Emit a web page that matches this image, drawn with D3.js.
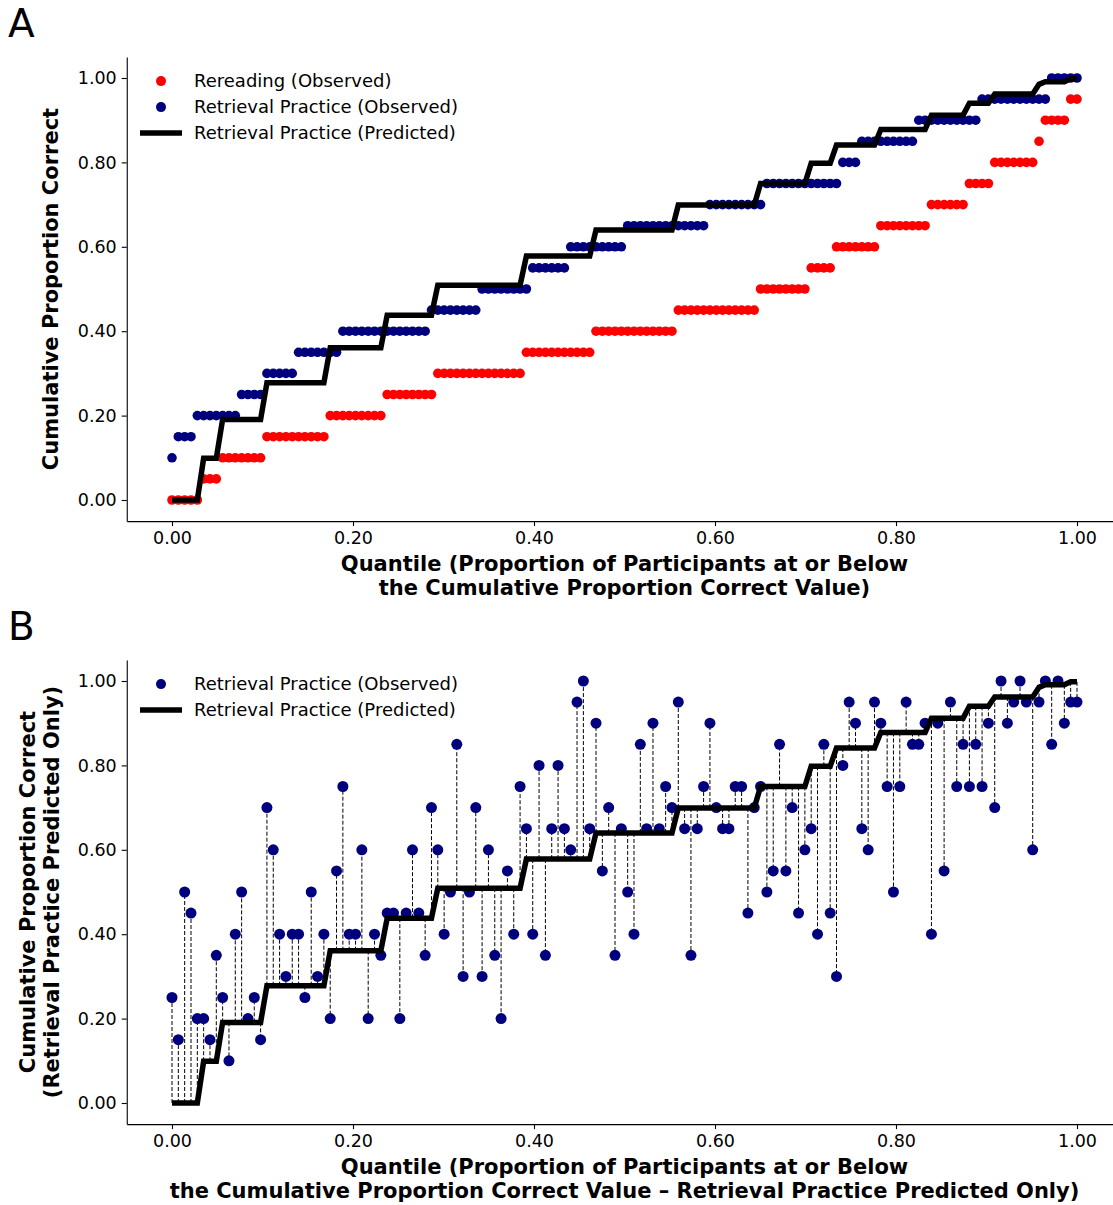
<!DOCTYPE html>
<html>
<head>
<meta charset="utf-8">
<script src="https://cdn.jsdelivr.net/npm/d3@7"></script>
<style>
  body { margin: 0; background: #fff; }
  text { font-family: "DejaVu Sans", "Liberation Sans", sans-serif; fill: #000; }
</style>
</head>
<body>
<svg id="fig" width="1113" height="1205"></svg>
<script>
// Possible test scores (proportion correct, 20-item test)
const scoreLevels = [0.00, 0.05, 0.10, 0.15, 0.20, 0.25, 0.30, 0.35, 0.40, 0.45,
                     0.50, 0.55, 0.60, 0.65, 0.70, 0.75, 0.80, 0.85, 0.90, 0.95, 1.00];

// Number of rereading participants at each score level
const rereadingCounts = [5, 3, 7, 10, 9, 8, 14, 11, 13, 13, 8, 4, 7, 8, 6, 4, 7, 1, 4, 2, 0];

// Predicted retrieval-practice score for each rereading score level
const predictedByLevel = [0.000, 0.099, 0.191, 0.278, 0.361, 0.438, 0.509, 0.578, 0.640, 0.699,
                          0.750, 0.798, 0.841, 0.878, 0.912, 0.940, 0.962, 0.985, 0.991, 0.998, 1.000];

// Observed retrieval-practice scores, ordered by predicted rank
const retrievalObserved = [
  0.25, 0.15, 0.50, 0.45, 0.20, 0.20, 0.15, 0.35, 0.25, 0.10,
  0.40, 0.50, 0.20, 0.25, 0.15, 0.70, 0.60, 0.40, 0.30, 0.40,
  0.40, 0.25, 0.50, 0.30, 0.40, 0.20, 0.55, 0.75, 0.40, 0.40,
  0.60, 0.20, 0.40, 0.35, 0.45, 0.45, 0.20, 0.45, 0.60, 0.45,
  0.35, 0.70, 0.60, 0.40, 0.50, 0.85, 0.30, 0.50, 0.70, 0.30,
  0.60, 0.35, 0.20, 0.55, 0.40, 0.75, 0.65, 0.40, 0.80, 0.35,
  0.65, 0.80, 0.65, 0.60, 0.95, 1.00, 0.65, 0.90, 0.55, 0.70,
  0.35, 0.65, 0.50, 0.40, 0.85, 0.65, 0.90, 0.65, 0.75, 0.70,
  0.95, 0.65, 0.35, 0.65, 0.75, 0.90, 0.70, 0.65, 0.65, 0.75,
  0.75, 0.45, 0.70, 0.75, 0.50, 0.55, 0.85, 0.55, 0.70, 0.45,
  0.60, 0.65, 0.40, 0.85, 0.45, 0.30, 0.80, 0.95, 0.90, 0.65,
  0.60, 0.95, 0.90, 0.75, 0.50, 0.75, 0.95, 0.85, 0.85, 0.90,
  0.40, 0.90, 0.55, 0.95, 0.75, 0.85, 0.75, 0.85, 0.75, 0.90,
  0.70, 1.00, 0.90, 0.95, 1.00, 0.95, 0.60, 0.95, 1.00, 0.85,
  1.00, 0.90, 0.95, 0.95
];

const yTicks = [0, 0.2, 0.4, 0.6, 0.8, 1.0];
const xTicks = [0, 0.2, 0.4, 0.6, 0.8, 1.0];

// Sorted rereading scores and their predicted retrieval scores
const rereadingSorted = [];
const predicted = [];
scoreLevels.forEach((s, k) => {
  for (let j = 0; j < rereadingCounts[k]; j++) {
    rereadingSorted.push(s);
    predicted.push(predictedByLevel[k]);
  }
});
const retrievalSorted = retrievalObserved.slice().sort(d3.ascending);
const n = predicted.length;
const q = i => i / (n - 1);

const RED = "#ff0000", NAVY = "#00007f";
const svg = d3.select("#fig");

function panel(opts) {
  const x = d3.scaleLinear().domain([-0.05, 1.05]).range([126.75, 1122.25]);
  const y = d3.scaleLinear().domain([-0.05, 1.05]).range([opts.bottom, opts.bottom - 464.2]);
  const g = svg.append("g");

  // axes
  const ax = g.append("g").attr("transform", `translate(0,${opts.bottom})`)
    .call(d3.axisBottom(x).tickValues(xTicks).tickFormat(d3.format(".2f"))
      .tickSize(5).tickSizeOuter(0).tickPadding(5));
  const ay = g.append("g").attr("transform", `translate(126.75,0)`)
    .call(d3.axisLeft(y).tickValues(yTicks).tickFormat(d3.format(".2f"))
      .tickSize(5).tickSizeOuter(0).tickPadding(5));
  [ax, ay].forEach(a => {
    a.selectAll("text").attr("font-size", 17.5).style("font-family", '"DejaVu Sans", sans-serif').attr("fill", "#000");
    a.selectAll("path, line").attr("stroke", "#000").attr("stroke-width", 1.1);
  });

  opts.draw(g, x, y);

  // axis titles
  const xt = g.append("text").attr("text-anchor", "middle")
    .attr("font-size", 21).attr("font-weight", "bold");
  opts.xLabel.forEach((t, i) => xt.append("tspan")
    .attr("x", x(0.5)).attr("y", opts.bottom + 49.5 + i * 24).text(t));

  const cy = (y(-0.05) + y(1.05)) / 2;
  opts.yLabel.forEach((t, i) => {
    const lx = opts.yLabelX[i];
    g.append("text").attr("text-anchor", "middle")
      .attr("font-size", 21).attr("font-weight", "bold")
      .attr("transform", `translate(${lx},${cy}) rotate(-90)`).text(t);
  });

  // panel letter
  g.append("text").attr("x", 8).attr("y", opts.bottom - 484)
    .attr("font-size", 39).text(opts.letter);

  // legend
  const lg = g.append("g");
  opts.legend.forEach((item, i) => {
    const ly = opts.bottom - 440 + i * 26;
    if (item.type === "dot") {
      lg.append("circle").attr("cx", 161).attr("cy", ly).attr("r", 5).attr("fill", item.color);
    } else {
      lg.append("line").attr("x1", 140).attr("x2", 182).attr("y1", ly).attr("y2", ly)
        .attr("stroke", "#000").attr("stroke-width", 5.5);
    }
    lg.append("text").attr("x", 194).attr("y", ly).attr("dy", "0.35em")
      .attr("font-size", 18).attr("fill", "#222").text(item.label);
  });
}

const stepLine = (x, y) => d3.line()
  .x((d, i) => x(q(i)))
  .y(d => y(d));

// Panel A: cumulative distributions
panel({
  letter: "A",
  bottom: 521.1,
  xLabel: ["Quantile (Proportion of Participants at or Below",
           "the Cumulative Proportion Correct Value)"],
  yLabel: ["Cumulative Proportion Correct"],
  yLabelX: [58],
  legend: [
    { type: "dot", color: RED, label: "Rereading (Observed)" },
    { type: "dot", color: NAVY, label: "Retrieval Practice (Observed)" },
    { type: "line", label: "Retrieval Practice (Predicted)" }
  ],
  draw: (g, x, y) => {
    g.append("g").selectAll("circle").data(rereadingSorted).join("circle")
      .attr("cx", (d, i) => x(q(i))).attr("cy", d => y(d)).attr("r", 4.8).attr("fill", RED);
    g.append("g").selectAll("circle").data(retrievalSorted).join("circle")
      .attr("cx", (d, i) => x(q(i))).attr("cy", d => y(d)).attr("r", 4.8).attr("fill", NAVY);
    g.append("path").datum(predicted).attr("d", stepLine(x, y))
      .attr("fill", "none").attr("stroke", "#000").attr("stroke-width", 5.5)
      .attr("stroke-linejoin", "miter");
  }
});

// Panel B: observed retrieval scores against predicted rank
panel({
  letter: "B",
  bottom: 1124.1,
  xLabel: ["Quantile (Proportion of Participants at or Below",
           "the Cumulative Proportion Correct Value \u2013 Retrieval Practice Predicted Only)"],
  yLabel: ["Cumulative Proportion Correct", "(Retrieval Practice Predicted Only)"],
  yLabelX: [35, 59],
  legend: [
    { type: "dot", color: NAVY, label: "Retrieval Practice (Observed)" },
    { type: "line", label: "Retrieval Practice (Predicted)" }
  ],
  draw: (g, x, y) => {
    g.append("g").selectAll("line").data(retrievalObserved).join("line")
      .attr("x1", (d, i) => x(q(i))).attr("x2", (d, i) => x(q(i)))
      .attr("y1", (d, i) => y(predicted[i])).attr("y2", d => y(d))
      .attr("stroke", "#000").attr("stroke-width", 1).attr("stroke-dasharray", "4,2");
    g.append("g").selectAll("circle").data(retrievalObserved).join("circle")
      .attr("cx", (d, i) => x(q(i))).attr("cy", d => y(d)).attr("r", 5.5).attr("fill", NAVY);
    g.append("path").datum(predicted).attr("d", stepLine(x, y))
      .attr("fill", "none").attr("stroke", "#000").attr("stroke-width", 5.5);
  }
});
</script>
</body>
</html>
